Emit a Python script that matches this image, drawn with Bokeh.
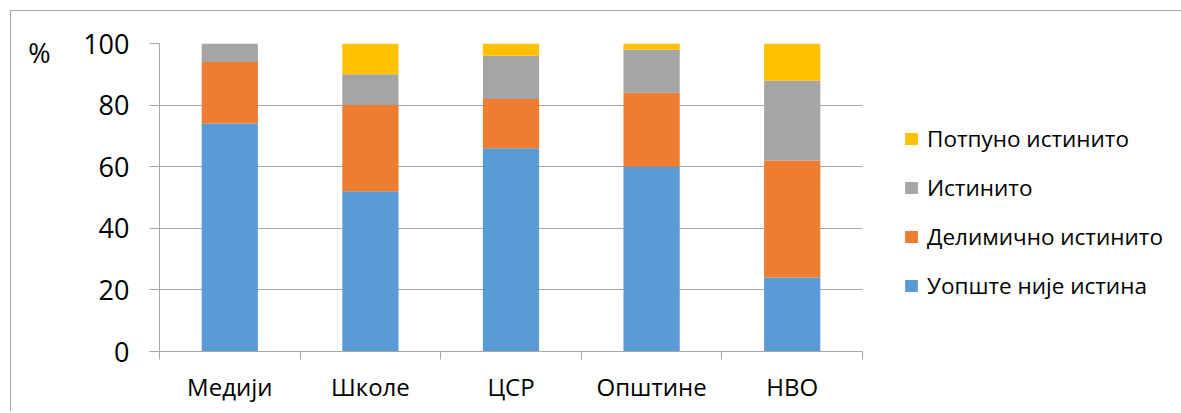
import numpy as np
from bokeh.plotting import figure
from bokeh.models import (ColumnDataSource, FixedTicker, Legend, LegendItem, LinearAxis, Range1d)
from bokeh.embed import file_html
from bokeh.resources import INLINE

categories = ["Медији", "Школе", "ЦСР", "Општине", "НВО"]
series_names = ["Уопште није истина", "Делимично истинито", "Истинито", "Потпуно истинито"]
not_true = [74, 52, 66, 60, 24]
partly_true = [20, 28, 16, 24, 38]
true_vals = [6, 10, 14, 14, 26]
fully_true = [0, 10, 4, 2, 12]
colors = ["#5B9BD5", "#ED7D31", "#A5A5A5", "#FFC000"]
y_ticks = [0, 20, 40, 60, 80, 100]
unit_label = "%"
unit_pos = 97

FONT = "Open Sans"
GRID = "#a6a6a6"

n = len(categories)
xs = np.arange(n) + 0.5
series = [not_true, partly_true, true_vals, fully_true]

p = figure(frame_width=703, frame_height=308, output_backend="svg", toolbar_location=None,
           x_range=Range1d(0, n), y_range=Range1d(0, 100),
           min_border_left=148, min_border_right=0, min_border_top=32, min_border_bottom=60)
p.margin = (10, 0, 0, 10)
p.styles = {"border-top": "1px solid #a6a6a6", "border-left": "1px solid #a6a6a6"}
p.outline_line_color = None
p.background_fill_color = "white"
p.border_fill_color = "white"

bottom = np.zeros(n)
renderers = []
for vals, col in zip(series, colors):
    vals = np.array(vals, dtype=float)
    src = ColumnDataSource(dict(x=xs, top=bottom + vals, bottom=bottom))
    r = p.vbar(x="x", top="top", bottom="bottom", width=0.4, source=src,
               fill_color=col, line_color=None)
    renderers.append(r)
    bottom = bottom + vals

# axes
p.xaxis.ticker = FixedTicker(ticks=list(xs), minor_ticks=list(range(n + 1)))
p.xaxis.major_label_overrides = {float(x): c for x, c in zip(xs, categories)}
p.xaxis.major_tick_out = 0
p.xaxis.major_tick_in = 0
p.xaxis.minor_tick_out = 8
p.xaxis.minor_tick_in = 0
p.xaxis.minor_tick_line_color = GRID
p.xaxis.axis_line_color = GRID
p.xaxis.major_label_text_font = FONT
p.xaxis.major_label_text_font_size = "24px"
p.xaxis.major_label_text_color = "black"
p.xaxis.major_label_standoff = 10

p.yaxis.ticker = FixedTicker(ticks=y_ticks, minor_ticks=[])
p.yaxis.major_tick_out = 10
p.yaxis.major_tick_in = 0
p.yaxis.major_tick_line_color = GRID
p.yaxis.axis_line_color = GRID
p.yaxis.major_label_text_font = FONT
p.yaxis.major_label_text_font_size = "27px"
p.yaxis.major_label_text_color = "black"
p.yaxis.major_label_standoff = 20

p.xgrid.visible = False
p.ygrid.grid_line_color = GRID
p.ygrid.ticker = FixedTicker(ticks=y_ticks)

# "%" unit label as an extra, tick-less axis on the left
unit_axis = LinearAxis(ticker=FixedTicker(ticks=[unit_pos], minor_ticks=[]),
                       major_label_overrides={unit_pos: unit_label},
                       axis_line_color=None, major_tick_line_color=None,
                       major_tick_out=0, major_tick_in=0,
                       major_label_text_font=FONT, major_label_text_font_size="27px",
                       major_label_text_color="black", major_label_standoff=30)
p.add_layout(unit_axis, "left")

items = [LegendItem(label=name, renderers=[r]) for name, r in zip(series_names, renderers)]
legend = Legend(items=items[::-1], location=(41, 50),
                glyph_width=16, glyph_height=15, label_standoff=8,
                label_text_font=FONT, label_text_font_size="22.5px", label_text_color="black",
                label_height=30, spacing=18, padding=0, margin=0,
                border_line_color=None, background_fill_alpha=0)
p.add_layout(legend, "right")

open("out.html", "w").write(file_html(p, INLINE))
